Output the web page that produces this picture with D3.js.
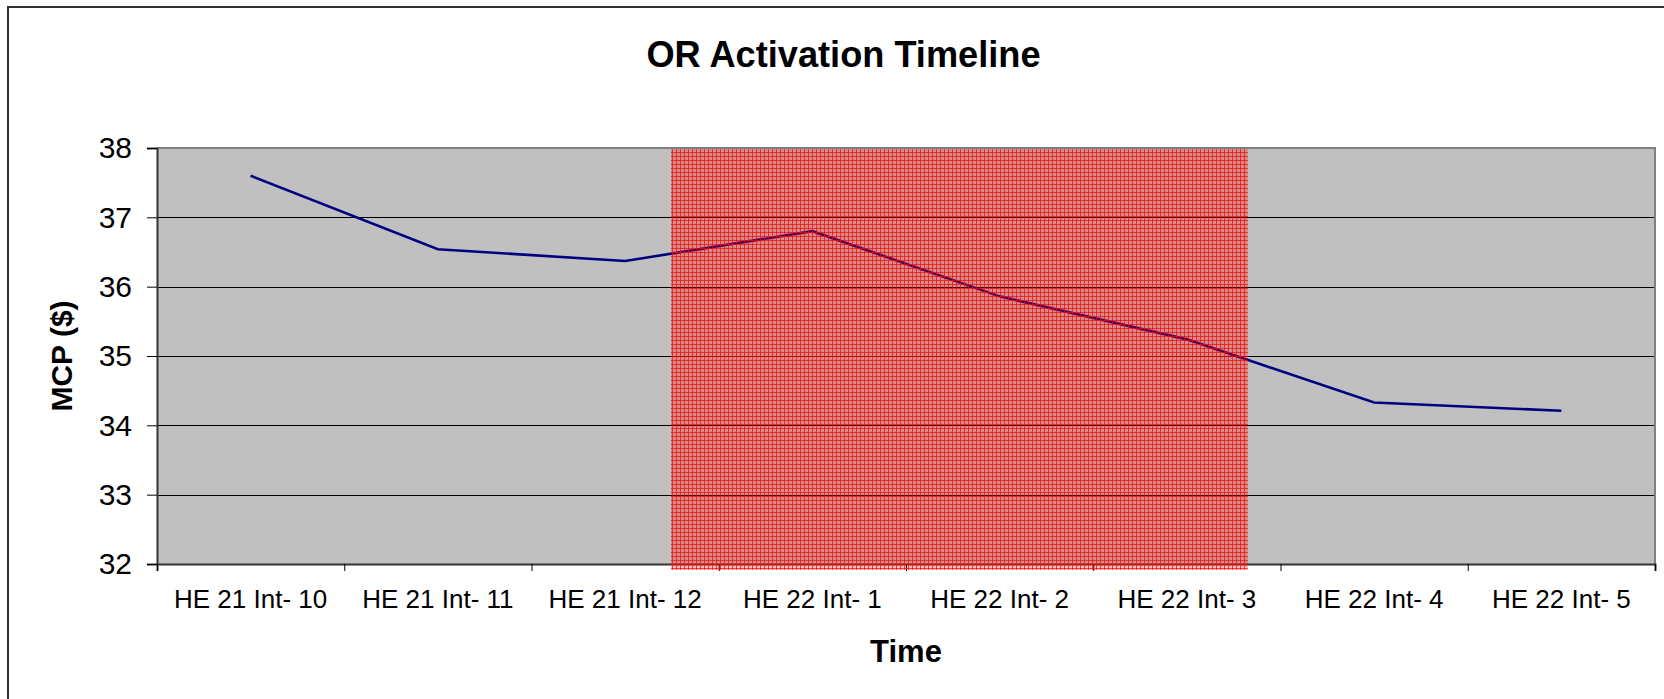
<!DOCTYPE html>
<html>
<head>
<meta charset="utf-8">
<script src="https://cdn.jsdelivr.net/npm/d3@7/dist/d3.min.js"></script>
<style>
  html, body { margin: 0; padding: 0; background: #fff; }
  svg { display: block; font-family: "Liberation Sans", Arial, sans-serif; }
</style>
</head>
<body>
<script>
// ---- data ----
const categories = ["HE 21 Int- 10", "HE 21 Int- 11", "HE 21 Int- 12", "HE 22 Int- 1",
                    "HE 22 Int- 2", "HE 22 Int- 3", "HE 22 Int- 4", "HE 22 Int- 5"];
const mcpValues = [37.60, 36.54, 36.37, 36.80, 35.86, 35.24, 34.33, 34.21];
const yTicks = [32, 33, 34, 35, 36, 37, 38];
const activationWindow = [2.745, 5.826]; // in category-index units
const titleText = "OR Activation Timeline";
const xTitle = "Time";
const yTitle = "MCP ($)";

// ---- layout ----
const W = 1664, H = 699;
const plot = { left: 157, right: 1655, top: 148, bottom: 564 };

const svg = d3.select("body").append("svg").attr("width", W).attr("height", H);

const x = d3.scaleBand().domain(categories).range([plot.left, plot.right]).padding(0);
const xi = d3.scaleLinear().domain([0, categories.length]).range([plot.left, plot.right]);
const y = d3.scaleLinear().domain([32, 38]).range([plot.bottom, plot.top]);

// pattern for the activation window
const defs = svg.append("defs");
const pat = defs.append("pattern").attr("id", "hatch")
  .attr("patternUnits", "userSpaceOnUse").attr("width", 4).attr("height", 4);
pat.append("rect").attr("width", 4).attr("height", 4).attr("fill", "#ff0000").attr("fill-opacity", 0.27);
pat.append("line").attr("x1", 0).attr("x2", 4).attr("y1", 0.5).attr("y2", 0.5)
  .attr("stroke", "#ff0000").attr("stroke-opacity", 0.68).attr("stroke-width", 1);
pat.append("line").attr("x1", 0.5).attr("x2", 0.5).attr("y1", 0).attr("y2", 4)
  .attr("stroke", "#ff0000").attr("stroke-opacity", 0.68).attr("stroke-width", 1);

// outer chart border (left & top visible)
svg.append("rect").attr("x", 8).attr("y", 7).attr("width", W + 50).attr("height", H + 50)
  .attr("fill", "none").attr("stroke", "#303030").attr("stroke-width", 2);

// plot background
svg.append("rect").attr("x", plot.left).attr("y", plot.top)
  .attr("width", plot.right - plot.left).attr("height", plot.bottom - plot.top)
  .attr("fill", "#c0c0c0");

// gridlines
svg.append("g").selectAll("line").data(yTicks.filter(v => v > 32 && v < 38)).join("line")
  .attr("x1", plot.left).attr("x2", plot.right)
  .attr("y1", d => Math.round(y(d)) + 0.5).attr("y2", d => Math.round(y(d)) + 0.5)
  .attr("stroke", "#000").attr("stroke-width", 1);

// top & right border of plot
svg.append("path")
  .attr("d", `M${plot.left},${plot.top}H${plot.right}V${plot.bottom}`)
  .attr("fill", "none").attr("stroke", "#808080").attr("stroke-width", 2);

// data line
const line = d3.line().x((d, i) => x(categories[i]) + x.bandwidth() / 2).y(d => y(d));
svg.append("path").datum(mcpValues).attr("d", line)
  .attr("fill", "none").attr("stroke", "#000080").attr("stroke-width", 2.6);

// y axis
const yAxis = svg.append("g").attr("transform", `translate(${plot.left},0)`)
  .call(d3.axisLeft(y).tickValues(yTicks).tickSize(10).tickPadding(15).tickFormat(d3.format("d")));
yAxis.select(".domain").attr("stroke", "#333").attr("stroke-width", 2);
yAxis.selectAll(".tick line").attr("stroke", "#000");
yAxis.selectAll(".tick text").attr("font-size", 30).attr("fill", "#000")
  .attr("font-family", "Liberation Sans, Arial, sans-serif").attr("dy", "0.33em");

// x axis: boundary ticks
const xTickAxis = svg.append("g").attr("transform", `translate(0,${plot.bottom})`)
  .call(d3.axisBottom(xi).tickValues(d3.range(categories.length + 1)).tickSize(7).tickFormat(""));
xTickAxis.select(".domain").attr("stroke", "#333").attr("stroke-width", 2);
xTickAxis.selectAll(".tick line").attr("stroke", "#000");

// x axis labels
const xLab = svg.append("g").attr("transform", `translate(0,${plot.bottom})`)
  .call(d3.axisBottom(x).tickSize(0).tickPadding(26));
xLab.select(".domain").remove();
xLab.selectAll(".tick text").attr("font-size", 26).attr("fill", "#000")
  .attr("font-family", "Liberation Sans, Arial, sans-serif");

// activation window overlay
svg.append("rect")
  .attr("x", xi(activationWindow[0])).attr("y", plot.top + 1)
  .attr("width", xi(activationWindow[1]) - xi(activationWindow[0]))
  .attr("height", plot.bottom - plot.top + 5)
  .attr("fill", "url(#hatch)");

// titles
svg.append("text").attr("x", 843.5).attr("y", 67).attr("text-anchor", "middle")
  .attr("font-size", 36.2).attr("font-weight", "bold").text(titleText);
svg.append("text").attr("x", 906).attr("y", 662).attr("text-anchor", "middle")
  .attr("font-size", 31).attr("font-weight", "bold").text(xTitle);
svg.append("text").attr("transform", `translate(72,${(plot.top + plot.bottom) / 2}) rotate(-90)`)
  .attr("text-anchor", "middle").attr("font-size", 30).attr("font-weight", "bold").text(yTitle);
</script>
</body>
</html>
